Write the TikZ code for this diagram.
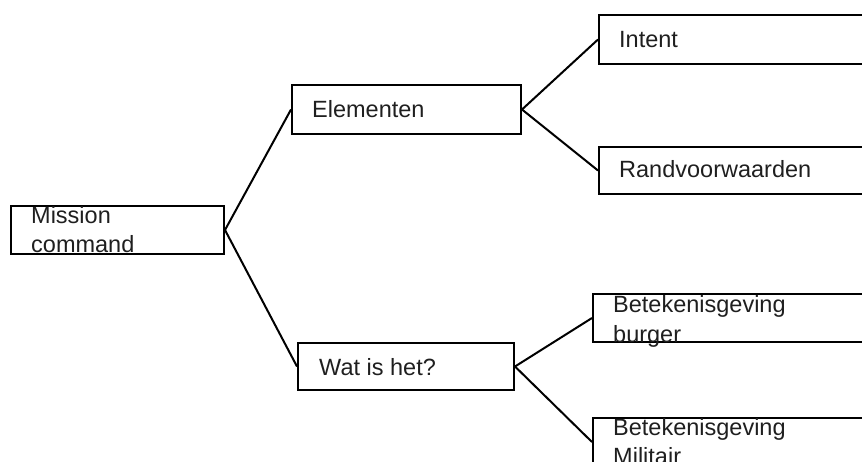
\documentclass[tikz,border=0pt]{standalone}
\usepackage{fontspec}
\setmainfont{Liberation Sans}
\begin{document}
\begin{tikzpicture}[x=1pt,y=-1pt,
  box/.style={draw=black, line width=2pt, rectangle, anchor=north west, inner sep=0pt},
  lbl/.style={anchor=base west, inner sep=0pt, align=left, text=black!88,
    font=\fontsize{23.5}{29.5}\selectfont},
  link/.style={draw=black, line width=2pt}]
\useasboundingbox (0,0) rectangle (862,461);
\clip (0,0) rectangle (862,461);

% boxes
\node[box, minimum width=213pt, minimum height=48pt] (mc) at (10,205) {};
\node[box, minimum width=229pt, minimum height=49pt] (el) at (291,84) {};
\node[box, minimum width=216pt, minimum height=47pt] (wat) at (297,342) {};
\node[box, minimum width=300pt, minimum height=49pt] (int) at (598,14) {};
\node[box, minimum width=300pt, minimum height=47pt] (rand) at (598,146) {};
\node[box, minimum width=300pt, minimum height=48pt] (burg) at (592,293) {};
\node[box, minimum width=300pt, minimum height=48pt] (mil) at (592,417) {};

% labels (multi-line labels are anchored at the baseline of their last line)
\node[lbl] (tmc) at (31,252.5) {Mission\\command};
\node[lbl] (tel) at (312,117) {Elementen};
\node[lbl] (twat) at (319,375) {Wat is het?};
\node[lbl] (tint) at (619,47) {Intent};
\node[lbl] (trand) at (619,177) {Randvoorwaarden};
\node[lbl] (tburg) at (613,342) {Betekenisgeving\\burger};
\node[lbl] (tmil) at (613,464.5) {Betekenisgeving\\Militair};

% connectors
\draw[link] (mc.east) -- (el.west);
\draw[link] (mc.east) -- (wat.west);
\draw[link] (el.east) -- (int.west);
\draw[link] (el.east) -- (rand.west);
\draw[link] (wat.east) -- (burg.west);
\draw[link] (wat.east) -- (mil.west);
\end{tikzpicture}
\end{document}
